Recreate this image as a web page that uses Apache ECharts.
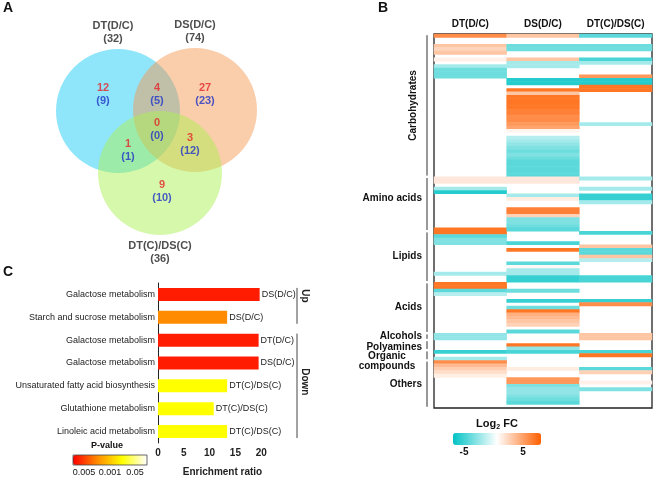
<!DOCTYPE html>
<html><head><meta charset="utf-8">
<script src="https://cdn.jsdelivr.net/npm/echarts@6/dist/echarts.min.js"></script>
<style>html,body{margin:0;padding:0;background:#fff}#c{width:658px;height:480px}</style>
</head><body><div id="c"></div>
<script>
// ---------- Panel A: Venn ----------
const vennSets = ['DT(D/C)', 'DS(D/C)', 'DT(C)/DS(C)'];
const vennTotals = [32, 74, 36];
// regions: DT only, DT&DS, DS only, all three, DT&third, DS&third, third only
const vennRed = [12, 4, 27, 0, 1, 3, 9];
const vennBlue = [9, 5, 23, 0, 1, 12, 10];

// ---------- Panel B: heatmap (log2 FC, rows top->bottom) ----------
const heatColumns = ['DT(D/C)', 'DS(D/C)', 'DT(C)/DS(C)'];
const fcDT = [
 5,null,null,2.5,1.8,2.5,null,0.6,null,-2.5,
 -4,-4,-4,null,null,null,null,null,null,null,
 null,null,null,null,null,null,null,null,null,null,
 null,null,null,null,null,null,null,null,null,null,
 null,null,1,1,null,-2.5,-6,null,null,null,
 null,null,null,null,null,null,null,6,6,-4.5,
 -3.5,-3.5,null,null,null,null,null,null,null,null,
 -2.5,null,null,6,6,-4.5,-2,null,null,null,
 null,null,null,null,null,null,null,null,-3,-3,
 null,null,null,-5.5,null,-2.5,5,3,2.2,1.5,
 0.7,null,null,null,null,null,null,null,null,null];
const fcDS = [
 2.5,null,null,-4,-4,null,null,2.5,-2.5,-2.5,
 null,null,null,-6,-6,null,6,2.5,6,6,
 6,6,5.5,5.5,5,5,4.5,4,0.4,null,
 -2,-2.5,-3,-3.5,-4,-3.5,-4,-4.5,-4.5,-4.5,
 -4.5,-4.5,1,1,null,null,null,-2.5,0.8,null,
 null,5.5,5.5,2,-3.5,-3.5,-4,-4.5,null,null,
 null,-5,null,6,null,null,null,-4.5,0.3,-2.5,
 -2.5,-5.5,-5.5,null,null,-4,null,null,-5.5,null,
 -4,6,3.5,3,2.5,2,null,-4.5,null,null,
 null,6,-3,-5,null,null,null,null,0.8,null,
 null,4.5,4.5,-3.5,-3,-3,-3.5,-4,-4.5,null];
const fcDTDS = [
 -4.5,null,null,-4,-4,null,null,-5,-2.5,null,
 null,null,4.5,-6,-6,6,6,null,null,null,
 null,null,null,null,null,null,-2.5,null,null,null,
 null,null,null,null,null,null,null,null,null,null,
 null,null,-2.5,null,null,-2.5,null,-5.5,-5.5,-2.5,
 null,null,null,null,null,null,null,null,-5,null,
 null,null,2.5,-4.5,-4.5,2.5,-2,null,null,null,
 null,-5,-5,null,null,null,null,null,-5.5,5,
 null,null,null,null,null,null,null,null,2.5,2.5,
 null,null,null,-5,6,null,null,null,-4.5,2,
 null,null,0.6,null,-3.5,null,null,null,null,null];
const heatGroups = ['Carbohydrates', 'Amino acids', 'Lipids', 'Acids', 'Alcohols', 'Polyamines', 'Organic\ncompounds', 'Others'];
const heatGroupStart = [0, 42, 58, 73, 88, 90, 93, 96];
const heatGroupEnd = [41, 57, 72, 87, 89, 92, 95, 109];
const fcTicks = ['-5', '5'];

// ---------- Panel C: enrichment bars ----------
const pathways = ['Galactose metabolism', 'Starch and sucrose metabolism', 'Galactose metabolism', 'Galactose metabolism',
  'Unsaturated fatty acid biosynthesis', 'Glutathione metabolism', 'Linoleic acid metabolism'];
const enrichment = [19.7, 13.4, 19.5, 19.5, 13.4, 10.8, 13.4];
const pValues = [0.004, 0.02, 0.004, 0.004, 0.04, 0.04, 0.04];
const comparisons = ['DS(D/C)', 'DS(D/C)', 'DT(D/C)', 'DS(D/C)', 'DT(C)/DS(C)', 'DT(C)/DS(C)', 'DT(C)/DS(C)'];
const pTicks = ['0.005', '0.001', '0.05'];
const direction = ['Up', 'Down'];
const directionStart = [0, 2];
const directionEnd = [1, 6];

// ---------- build ----------
const FONT = 'Liberation Sans';
const chart = echarts.init(document.getElementById('c'), null, {renderer: 'canvas'});
const nRows = fcDT.length;
const rows = Array.from({length: nRows}, (_, i) => String(i));
const heatData = [];
[fcDT, fcDS, fcDTDS].forEach((col, c) => col.forEach((v, r) => { if (v !== null) heatData.push([c, r, v]); }));

const circleCenters = [[118, 111], [195, 110], [160, 173]];
const circleColors = ['rgba(20,200,245,0.6)', 'rgba(245,150,80,0.6)', 'rgba(170,240,80,0.6)'];
const regionPos = [[103, 94], [157, 94], [205, 94], [157, 129], [128, 150], [190, 144], [162, 191]];

const option = {
  animation: false,
  textStyle: {fontFamily: FONT},
  grid: [
    {left: 0, top: 0, width: 330, height: 270},
    {left: 434, top: 34, width: 218, height: 374, show: true, borderColor: '#222', borderWidth: 1.3, backgroundColor: '#fff'},
    {left: 158, top: 283, width: 129, height: 160}
  ],
  xAxis: [
    {gridIndex: 0, type: 'value', min: 0, max: 330, show: false},
    {gridIndex: 1, type: 'category', data: heatColumns, position: 'top',
      axisLine: {show: false}, axisTick: {show: false},
      axisLabel: {interval: 0, fontSize: 10, fontWeight: 'bold', color: '#111', margin: 5}},
    {gridIndex: 2, type: 'value', min: 0, max: 25, interval: 5,
      axisLine: {show: false}, axisTick: {show: false}, splitLine: {show: false},
      axisLabel: {fontSize: 10, fontWeight: 'bold', color: '#222', margin: 5, formatter: v => v > 20 ? '' : v},
      name: 'Enrichment ratio', nameLocation: 'middle', nameGap: 24,
      nameTextStyle: {fontSize: 10, fontWeight: 'bold', color: '#222'}}
  ],
  yAxis: [
    {gridIndex: 0, type: 'value', min: 0, max: 270, inverse: true, show: false},
    {gridIndex: 1, type: 'category', data: rows, inverse: true, show: false},
    {gridIndex: 2, type: 'category', data: pathways, inverse: true,
      axisLine: {show: true, lineStyle: {color: '#222', width: 1}}, axisTick: {show: false},
      axisLabel: {fontSize: 9, color: '#222', margin: 3}}
  ],
  visualMap: [
    {type: 'continuous', seriesIndex: 1, min: -7, max: 7, orient: 'horizontal', left: 438, top: 418,
      itemWidth: 12, itemHeight: 88, calculable: false, realtime: false, text: null, showLabel: false,
      inRange: {color: ['#00c3c6', '#ffffff', '#ff5f00']}},
    {type: 'continuous', seriesIndex: 2, dimension: 2, min: 0, max: 0.06, orient: 'horizontal', left: 58, top: 440,
      itemWidth: 10, itemHeight: 74, calculable: false, text: null,
      inRange: {color: ['#ff0000', '#ff8c00', '#ffff00', '#ffffff']}}
  ],
  series: [
    {type: 'scatter', xAxisIndex: 0, yAxisIndex: 0, symbolSize: 124, silent: true,
      data: vennSets.map((s, i) => ({
        value: circleCenters[i], name: s, total: vennTotals[i],
        itemStyle: {color: circleColors[i]},
        label: {show: true, position: i === 2 ? 'bottom' : 'top', distance: 4, offset: i === 0 ? [-5, 0] : [0, 0],
          formatter: () => s + '\n(' + vennTotals[i] + ')', fontSize: 11, fontWeight: 'bold', color: '#222', lineHeight: 13, align: 'center'}
      }))},
    {type: 'heatmap', xAxisIndex: 1, yAxisIndex: 1, data: heatData, itemStyle: {borderWidth: 0}},
    {type: 'bar', xAxisIndex: 2, yAxisIndex: 2, barWidth: 13, encode: {x: 0, y: 1},
      data: enrichment.map((v, i) => [v, i, pValues[i]]),
      label: {show: true, position: 'right', distance: 2, fontSize: 9, color: '#222',
        formatter: p => comparisons[p.dataIndex]}},
    {type: 'scatter', xAxisIndex: 0, yAxisIndex: 0, symbolSize: 0, silent: true, z: 5,
      data: vennRed.map((v, i) => ({value: regionPos[i], red: v, blue: vennBlue[i]})),
      label: {show: true, position: 'inside',
        formatter: p => '{r|' + vennRed[p.dataIndex] + '}\n{b|(' + vennBlue[p.dataIndex] + ')}',
        rich: {r: {color: '#e3262b', fontSize: 11, fontWeight: 'bold', lineHeight: 13, align: 'center'},
               b: {color: '#1f35c8', fontSize: 11, fontWeight: 'bold', lineHeight: 13, align: 'center'}}}}
  ]
};
chart.setOption(option);

// ---------- annotations placed from the axes ----------
const g = [];
const txt = (x, y, t, o) => g.push({type: 'text', x, y, style: Object.assign({text: t, fontFamily: FONT, fill: '#111', align: 'center', verticalAlign: 'middle'}, o || {})});
txt(8, 8, 'A', {fontSize: 14, fontWeight: 'bold'});
txt(383, 8, 'B', {fontSize: 14, fontWeight: 'bold'});
txt(8, 272, 'C', {fontSize: 14, fontWeight: 'bold'});

const rowH = 374 / nRows;
const labelShift = [0, -6, 0, 0, 0, 2, 6, 0];
heatGroups.forEach((name, i) => {
  const y0 = chart.convertToPixel({xAxisIndex: 1, yAxisIndex: 1}, [0, heatGroupStart[i]])[1] - rowH / 2;
  const y1 = chart.convertToPixel({xAxisIndex: 1, yAxisIndex: 1}, [0, heatGroupEnd[i]])[1] + rowH / 2;
  g.push({type: 'line', shape: {x1: 427, y1: y0 + 1.2, x2: 427, y2: y1 - 1.2}, style: {stroke: '#333', lineWidth: 1}});
  const yc = (y0 + y1) / 2 + labelShift[i];
  if (i === 0) {
    g.push({type: 'text', x: 413, y: yc, rotation: Math.PI / 2,
      style: {text: name, fontFamily: FONT, fontSize: 10, fontWeight: 'bold', fill: '#111', align: 'center', verticalAlign: 'middle'}});
  } else {
    g.push({type: 'text', x: i === 6 ? 387 : 422, y: yc,
      style: {text: name, fontFamily: FONT, fontSize: 10, fontWeight: 'bold', fill: '#111', align: i === 6 ? 'center' : 'right', verticalAlign: 'middle', lineHeight: 9.5}});
  }
});

g.push({type: 'text', x: 497, y: 424, style: {text: '{a|Log}{s|2}{a| FC}', align: 'center', verticalAlign: 'middle',
  rich: {a: {fontSize: 11, fontWeight: 'bold', fontFamily: FONT, fill: '#111'}, s: {fontSize: 7, fontWeight: 'bold', fontFamily: FONT, fill: '#111', padding: [6, 0, 0, 0]}}}});
txt(464, 452, fcTicks[0], {fontSize: 10, fontWeight: 'bold'});
txt(523, 452, fcTicks[1], {fontSize: 10, fontWeight: 'bold'});

txt(107, 446, 'P-value', {fontSize: 9, fontWeight: 'bold'});
g.push({type: 'rect', shape: {x: 73, y: 455, width: 74, height: 10}, style: {fill: 'none', stroke: '#444', lineWidth: 0.8}, z: 100});
txt(84, 473, pTicks[0], {fontSize: 9});
txt(110, 473, pTicks[1], {fontSize: 9});
txt(135, 473, pTicks[2], {fontSize: 9});

direction.forEach((d, i) => {
  const y0 = chart.convertToPixel({xAxisIndex: 2, yAxisIndex: 2}, [0, directionStart[i]])[1] - 6.5;
  const y1 = chart.convertToPixel({xAxisIndex: 2, yAxisIndex: 2}, [0, directionEnd[i]])[1] + 6.5;
  g.push({type: 'line', shape: {x1: 297, y1: y0, x2: 297, y2: y1}, style: {stroke: '#444', lineWidth: 1}});
  g.push({type: 'text', x: 305, y: i === 0 ? y0 + 8 : (y0 + y1) / 2 - 4, rotation: -Math.PI / 2,
    style: {text: d, fontFamily: FONT, fontSize: 10, fontWeight: 'bold', fill: '#222', align: 'center', verticalAlign: 'middle'}});
});
chart.setOption({graphic: g});
</script></body></html>
